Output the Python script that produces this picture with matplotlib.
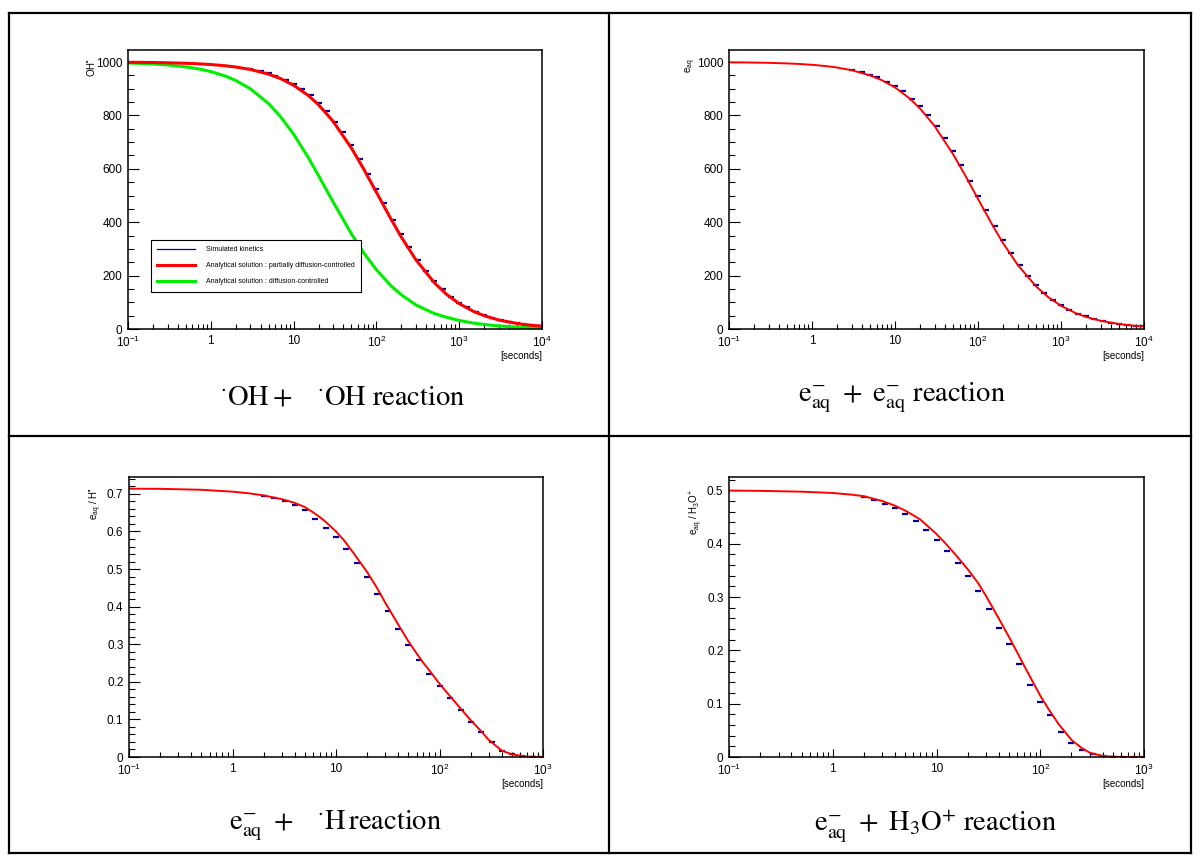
import math
import matplotlib
matplotlib.use("Agg")
import matplotlib.pyplot as plt
from matplotlib.lines import Line2D
from matplotlib.ticker import FixedLocator, MultipleLocator, FuncFormatter, LogLocator, NullFormatter

plt.rcParams['font.family'] = ['Liberation Sans', 'DejaVu Sans']
plt.rcParams['mathtext.fontset'] = 'custom'
plt.rcParams['mathtext.rm'] = 'Liberation Sans'
plt.rcParams['mathtext.it'] = 'Liberation Sans:italic'
plt.rcParams['mathtext.bf'] = 'Liberation Sans:bold'

# ---------------- data ----------------
# panel 1 : OH + OH   (time in seconds)
t_long = [0.1, 0.15, 0.2, 0.3, 0.5, 0.7, 1, 1.5, 2, 3, 5, 7, 10, 15, 20, 30, 50, 70,
          100, 150, 200, 300, 500, 700, 1000, 1500, 2000, 3000, 5000, 7000, 10000]
oh_partial = [999, 998.6, 998.1, 997.1, 995.3, 993.4, 990.6, 985.9, 981.3, 972.2, 954.5,
              937.5, 913, 875, 840, 777.8, 677.4, 600, 512.2, 411.8, 344.3, 259.3, 173.6,
              130.4, 95, 65.4, 49.9, 33.8, 20.6, 14.8, 10.4]
oh_diffusion = [996.3, 994.5, 992.6, 989, 981.8, 974.7, 964.3, 947.4, 931, 900, 843.8,
                794.1, 729.7, 642.9, 574.5, 476, 356, 286, 222, 162, 128, 90, 58, 44,
                32, 22, 17, 11.5, 7, 5, 3.6]
t_bins_long = [3, 4, 5, 6, 8, 10, 12.5, 16, 20, 25, 32, 40, 50, 63, 80, 100, 125, 160, 200,
               250, 320, 400, 500, 630, 800, 1000, 1250, 1600, 2000, 2500, 3200, 4000,
               5000, 6300, 8000, 10000]
oh_sim = [973, 965, 957, 949, 933, 918, 900, 875, 848, 818, 777, 736, 690, 638, 582, 526,
          471, 410, 356, 307, 257, 216, 181, 149, 121, 99, 81, 65, 52, 42, 33, 27, 21,
          16.5, 13, 10.5]

# panel 2 : e_aq + e_aq
eaq_partial = [998.9, 998.4, 997.9, 996.9, 994.8, 992.7, 989.6, 984.5, 979.4, 969.4, 950,
               931.4, 904.8, 863.6, 826.1, 760, 655.2, 575.8, 487.2, 387.8, 322, 240.5,
               159.7, 119.5, 86.8, 59.6, 45.3, 30.7, 18.6, 13.4, 9.4]
eaq_sim = [970, 961, 952, 944, 926, 910, 890, 863, 834, 802, 759, 716, 668, 614, 556, 500,
           445, 386, 334, 285, 238, 199, 166, 136, 110, 90, 73, 58, 47, 38, 30, 24, 19,
           15, 12, 9.5]

# panel 3 : e_aq + H
t_short = [0.1, 0.2, 0.5, 1, 1.5, 2, 3, 4, 5, 6, 7, 8, 10, 12, 15, 20, 25, 30, 40, 50, 60,
           70, 80, 100, 120, 150, 200, 250, 300, 400, 500, 700, 1000]
eh_partial = [0.714, 0.7135, 0.711, 0.706, 0.701, 0.696, 0.686, 0.676, 0.665, 0.651, 0.638,
              0.625, 0.600, 0.576, 0.540, 0.492, 0.449, 0.410, 0.352, 0.308, 0.276, 0.250,
              0.230, 0.195, 0.169, 0.138, 0.098, 0.070, 0.045, 0.017, 0.007, 0.001, 0.0]
t_bins_short = [2, 2.5, 3.2, 4, 5, 6.3, 8, 10, 12.5, 16, 20, 25, 32, 40, 50, 63, 80, 100,
                125, 160, 200, 250, 320, 400, 500, 630, 800, 1000]
eh_sim = [0.694, 0.688, 0.680, 0.670, 0.657, 0.632, 0.610, 0.586, 0.553, 0.516, 0.478,
          0.434, 0.388, 0.341, 0.298, 0.258, 0.222, 0.189, 0.158, 0.125, 0.094, 0.067,
          0.039, 0.017, 0.007, 0.002, 0.0005, 0.0]

# panel 4 : e_aq + H3O+
eh3o_partial = [0.4995, 0.499, 0.4975, 0.495, 0.492, 0.489, 0.480, 0.471, 0.462, 0.453,
                0.445, 0.435, 0.418, 0.402, 0.381, 0.352, 0.327, 0.302, 0.259, 0.225,
                0.196, 0.171, 0.150, 0.115, 0.090, 0.062, 0.032, 0.017, 0.008, 0.002,
                0.0005, 0.0, 0.0]
eh3o_sim = [0.487, 0.482, 0.474, 0.466, 0.455, 0.442, 0.425, 0.406, 0.386, 0.363, 0.340,
            0.312, 0.278, 0.242, 0.211, 0.174, 0.135, 0.104, 0.078, 0.047, 0.026, 0.013,
            0.005, 0.0015, 0.0, 0.0, 0.0, 0.0]

captions = [r'${}^{\cdot}\mathrm{OH}+\ \ \ {}^{\cdot}\mathrm{OH}\ \mathrm{reaction}$',
            r'$\mathrm{e}^{-}_{\mathrm{aq}}\ +\ \mathrm{e}^{-}_{\mathrm{aq}}\ \mathrm{reaction}$',
            r'$\mathrm{e}^{-}_{\mathrm{aq}}\ +\ \ \ {}^{\cdot}\mathrm{H\,reaction}$',
            r'$\mathrm{e}^{-}_{\mathrm{aq}}\ +\ \mathrm{H}_{3}\mathrm{O}^{+}\ \mathrm{reaction}$']
ylabels = [r'OH$^{•}$', r'$\mathrm{e_{aq}}$',
           r'$\mathrm{e_{aq}}$ / H$^{•}$', r'$\mathrm{e_{aq}}$ / H$_3$O$^{+}$']
legend_labels = ['Simulated kinetics',
                 'Analytical solution : partially diffusion-controlled',
                 'Analytical solution : diffusion-controlled']

BLUE = '#000099'
RED = '#ff0000'
GREEN = '#00ee00'

W, H = 1200, 856
fig = plt.figure(figsize=(W / 100, H / 100), dpi=100)


def fx(x):
    return x / W


def fy(y):
    return 1 - y / H


def add_ax(x0, y0, x1, y1):
    return fig.add_axes([fx(x0), fy(y1), (x1 - x0) / W, (y1 - y0) / H])


def xlab(v):
    if v == 1:
        return '1'
    if v == 10:
        return '10'
    e = int(round(math.log10(v)))
    return r'$10^{%d}$' % e


def style(ax, xmax, ymax, ymajor, yminor, yfmt):
    ax.set_xscale('log')
    ax.set_xlim(0.1, xmax)
    ax.set_ylim(0, ymax)
    decades = [d for d in [0.1, 1, 10, 100, 1000, 10000] if d <= xmax * 1.001]
    ax.xaxis.set_major_locator(FixedLocator(decades))
    ax.set_xticklabels([xlab(d) for d in decades])
    ax.xaxis.set_minor_locator(LogLocator(base=10, subs=range(2, 10), numticks=20))
    ax.xaxis.set_minor_formatter(NullFormatter())
    ax.yaxis.set_major_locator(MultipleLocator(ymajor))
    ax.yaxis.set_minor_locator(MultipleLocator(yminor))
    ax.yaxis.set_major_formatter(FuncFormatter(yfmt))
    ax.tick_params(which='both', direction='in', top=False, right=False,
                   labelsize=8.5, width=0.8, colors='black')
    ax.tick_params(axis='x', which='major', length=6, pad=4)
    ax.tick_params(axis='x', which='minor', length=3.5)
    ax.tick_params(axis='y', which='major', length=8, pad=4)
    ax.tick_params(axis='y', which='minor', length=4.5)
    for s in ax.spines.values():
        s.set_linewidth(1.1)


def fmt_int(v, p):
    return '%d' % round(v)


def fmt_dec(v, p):
    return '0' if abs(v) < 1e-9 else '%.1f' % v


# panel boxes (pixels)
boxes = [(128, 50, 542, 329), (729, 50, 1144, 329),
         (129, 477, 543, 757), (729, 477, 1144, 757)]

# --- panel 1
ax1 = add_ax(*boxes[0])
style(ax1, 1e4, 1045, 200, 50, fmt_int)
ax1.plot(t_bins_long, oh_sim, ls='none', marker='_', ms=5, mew=1.6, color=BLUE)
ax1.plot(t_long, oh_diffusion, color=GREEN, lw=2.2)
ax1.plot(t_long, oh_partial, color=RED, lw=2.2)
hb = Line2D([], [], color=BLUE, lw=0.9)
hr = Line2D([], [], color=RED, lw=2.2)
hg = Line2D([], [], color=GREEN, lw=2.2)
leg = ax1.legend([hb, hr, hg], legend_labels, loc='upper left',
                 bbox_to_anchor=(fx(151), fy(240)), bbox_transform=fig.transFigure,
                 borderaxespad=0, fontsize=5, handlelength=5.5, handletextpad=1.5,
                 labelspacing=1.3, borderpad=0.9, fancybox=False, framealpha=1,
                 edgecolor='black')
leg.get_frame().set_linewidth(0.8)

# --- panel 2
ax2 = add_ax(*boxes[1])
style(ax2, 1e4, 1045, 200, 50, fmt_int)
ax2.plot(t_bins_long, eaq_sim, ls='none', marker='_', ms=5, mew=1.6, color=BLUE)
ax2.plot(t_long, eaq_partial, color=RED, lw=1.4)

# --- panel 3
ax3 = add_ax(*boxes[2])
style(ax3, 1e3, 0.745, 0.1, 0.02, fmt_dec)
ax3.plot(t_bins_short, eh_sim, ls='none', marker='_', ms=5, mew=1.6, color=BLUE)
ax3.plot(t_short, eh_partial, color=RED, lw=1.4)

# --- panel 4
ax4 = add_ax(*boxes[3])
style(ax4, 1e3, 0.525, 0.1, 0.02, fmt_dec)
ax4.plot(t_bins_short, eh3o_sim, ls='none', marker='_', ms=5, mew=1.6, color=BLUE)
ax4.plot(t_short, eh3o_partial, color=RED, lw=1.4)

# y labels (top-aligned, rotated) and x labels
ylab_pos = [(91, 58), (691, 58), (96, 487), (696, 489)]
for (x, y), lab in zip(ylab_pos, ylabels):
    fig.text(fx(x), fy(y), lab, rotation=90, ha='center', va='top', fontsize=7)
for (x0, y0, x1, y1) in boxes:
    fig.text(fx(x1), fy(y1 + 27), '[seconds]', ha='right', va='center', fontsize=7)

# captions
cap_pos = [(343, 398), (902, 398), (335, 826), (935, 826)]
for (x, y), c in zip(cap_pos, captions):
    fig.text(fx(x), fy(y), c, ha='center', va='center', fontsize=20.5,
             math_fontfamily='stix')


# table borders
def hline(y, x0, x1):
    fig.add_artist(Line2D([fx(x0), fx(x1)], [fy(y), fy(y)], transform=fig.transFigure,
                          color='black', lw=1.6))


def vline(x, y0, y1):
    fig.add_artist(Line2D([fx(x), fx(x)], [fy(y0), fy(y1)], transform=fig.transFigure,
                          color='black', lw=1.6))


hline(13, 9, 1191)
hline(436, 9, 1191)
hline(853, 9, 1191)
vline(9, 13, 853)
vline(609, 13, 853)
vline(1191, 13, 853)

fig.savefig('out.png', dpi=100)
